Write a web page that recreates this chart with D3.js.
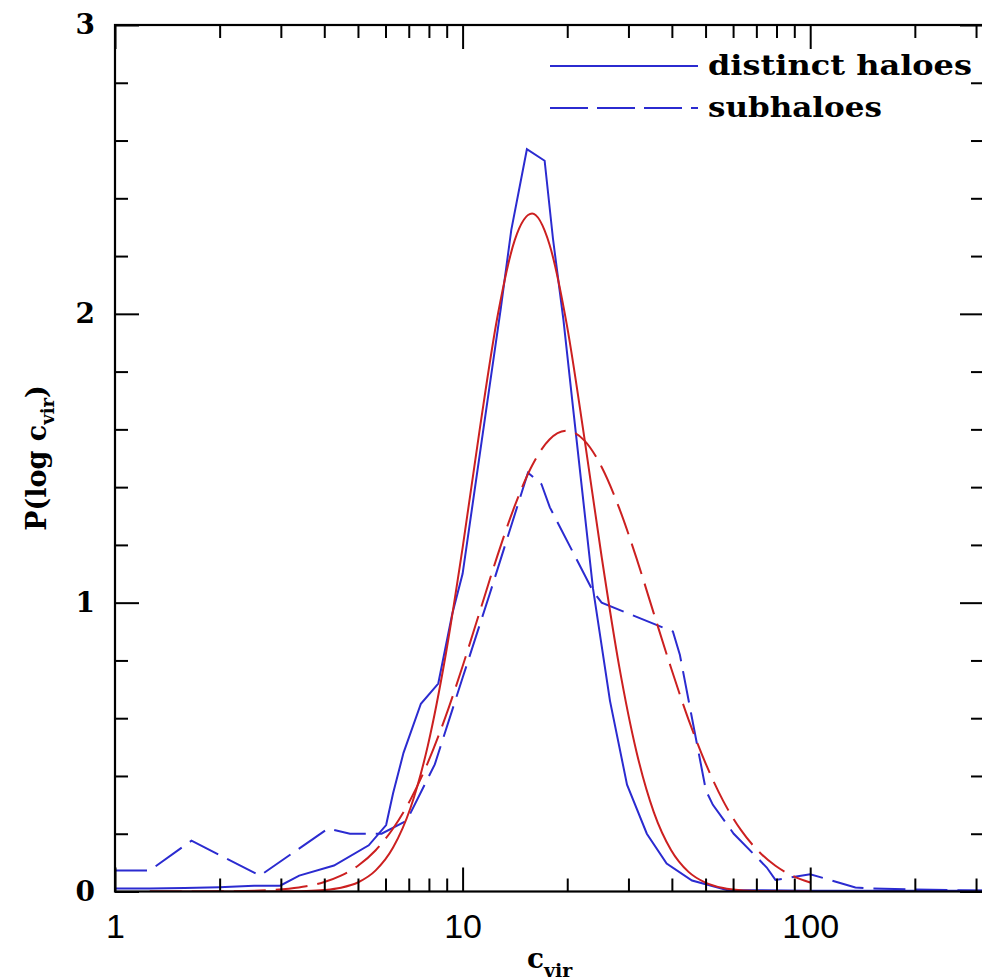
<!DOCTYPE html>
<html>
<head>
<meta charset="utf-8">
<script src="https://cdn.jsdelivr.net/npm/d3@7"></script>
<style>
  body { margin: 0; background: #fff; }
  svg { display: block; }
</style>
</head>
<body>
<div class="svg-container"></div>
<script>
// log10(c_vir) positions and P(log c_vir)
const distinctLogC = [0, 0.1, 0.2, 0.3, 0.4, 0.475, 0.53, 0.63, 0.73, 0.78, 0.8, 0.83, 0.88, 0.93, 0.97, 1.0,
  1.055, 1.11, 1.14, 1.185, 1.236, 1.26, 1.29, 1.32, 1.375, 1.424, 1.473, 1.53, 1.587, 1.66, 1.76, 2.0, 2.5]
const distinctP = [0.01, 0.01, 0.012, 0.015, 0.02, 0.02, 0.055, 0.09, 0.16, 0.23, 0.34, 0.48, 0.65, 0.72, 0.96, 1.10,
  1.56, 2.02, 2.29, 2.57, 2.53, 2.26, 1.98, 1.65, 1.05, 0.66, 0.37, 0.20, 0.097, 0.038, 0.005, 0.003, 0.003]

const subLogC = [0, 0.1, 0.22, 0.417, 0.613, 0.676, 0.767, 0.839, 0.92, 1.0, 1.078, 1.188, 1.227, 1.251,
  1.375, 1.40, 1.605, 1.625, 1.66, 1.70, 1.72, 1.78, 1.875, 1.90, 2.0, 2.13, 2.18, 2.5]
const subP = [0.073, 0.073, 0.176, 0.055, 0.218, 0.20, 0.20, 0.245, 0.44, 0.74, 1.03, 1.45, 1.41, 1.33,
  1.04, 1.00, 0.90, 0.82, 0.60, 0.35, 0.30, 0.20, 0.083, 0.04, 0.06, 0.014, 0.01, 0.003]

// lognormal fits (red), sampled on a shared grid
const fitLogC = [0.1, 0.2, 0.3, 0.4, 0.5, 0.55, 0.6, 0.65, 0.7, 0.75, 0.8, 0.85, 0.9, 0.95, 1.0, 1.05, 1.1, 1.15,
  1.2, 1.25, 1.3, 1.35, 1.4, 1.45, 1.5, 1.55, 1.6, 1.65, 1.7, 1.75, 1.8, 1.85, 1.9, 1.95, 2.0]
const distinctFitP = [0, 0, 0, 0, 0.0005, 0.0016, 0.005, 0.013, 0.032, 0.073, 0.152, 0.289, 0.505, 0.81, 1.19,
  1.606, 1.988, 2.255, 2.347, 2.24, 1.961, 1.573, 1.159, 0.783, 0.485, 0.275, 0.143, 0.068, 0.03, 0.012, 0.004,
  0.0015, 0.0005, 0, 0]
const subFitP = [0, 0, 0.0005, 0.0025, 0.0097, 0.018, 0.032, 0.055, 0.09, 0.143, 0.218, 0.318, 0.446, 0.602, 0.78,
  0.971, 1.162, 1.335, 1.475, 1.565, 1.595, 1.562, 1.47, 1.329, 1.155, 0.963, 0.773, 0.595, 0.441, 0.313, 0.214,
  0.141, 0.089, 0.054, 0.031]

const xMajor = [1, 10, 100]
const xMinor = [2, 3, 4, 5, 6, 7, 8, 9, 20, 30, 40, 50, 60, 70, 80, 90, 200, 300]
const yMajor = [0, 1, 2, 3]
const yMinor = [0.2, 0.4, 0.6, 0.8, 1.2, 1.4, 1.6, 1.8, 2.2, 2.4, 2.6, 2.8]

const legendItems = ['distinct haloes', 'subhaloes']

const blue = '#2b2bd0'
const red = '#cc2020'

const svg = d3.select('.svg-container').append('svg')
  .attr('width', 982)
  .attr('height', 980)

const x = d3.scaleLog().domain([1, 316.23]).range([115, 984])
const y = d3.scaleLinear().domain([0, 3]).range([891.5, 25])

svg.append('defs').append('clipPath')
  .attr('id', 'plot-clip')
  .append('rect')
  .attr('x', 115).attr('y', 25)
  .attr('width', 869).attr('height', 866.5)

const zip = (xs, ys) => xs.map((l, i) => ({ c: Math.pow(10, l), p: ys[i] }))

const line = d3.line().x(d => x(d.c)).y(d => y(d.p))
const smooth = d3.line().x(d => x(d.c)).y(d => y(d.p)).curve(d3.curveMonotoneX)

const curves = svg.append('g').attr('clip-path', 'url(#plot-clip)')

curves.append('path')
  .attr('d', line(zip(distinctLogC, distinctP)))
  .attr('fill', 'none').attr('stroke', blue).attr('stroke-width', 2)

curves.append('path')
  .attr('d', line(zip(subLogC, subP)))
  .attr('fill', 'none').attr('stroke', blue).attr('stroke-width', 2)
  .attr('stroke-dasharray', '32,10')

curves.append('path')
  .attr('d', smooth(zip(fitLogC, distinctFitP)))
  .attr('fill', 'none').attr('stroke', red).attr('stroke-width', 2)

curves.append('path')
  .attr('d', smooth(zip(fitLogC, subFitP)))
  .attr('fill', 'none').attr('stroke', red).attr('stroke-width', 2)
  .attr('stroke-dasharray', '32,10')

// axes, ticks pointing inward
function styleAxis(g) {
  g.select('.domain').remove()
  g.selectAll('.tick line').attr('stroke', '#000').attr('stroke-width', 2)
}

svg.append('g').attr('transform', 'translate(0,891.5)')
  .call(d3.axisBottom(x).tickValues(xMinor).tickSize(-13).tickFormat(''))
  .call(styleAxis)

svg.append('g').attr('transform', 'translate(0,891.5)')
  .call(d3.axisBottom(x).tickValues(xMajor).tickSize(-24).tickPadding(22).tickFormat(d3.format('d')))
  .call(styleAxis)
  .selectAll('text')
  .attr('font-family', 'Liberation Sans, sans-serif')
  .attr('font-size', 34)
  .attr('fill', '#000')

svg.append('g').attr('transform', 'translate(0,25)')
  .call(d3.axisTop(x).tickValues(xMinor).tickSize(-13).tickFormat(''))
  .call(styleAxis)

svg.append('g').attr('transform', 'translate(0,25)')
  .call(d3.axisTop(x).tickValues(xMajor).tickSize(-24).tickFormat(''))
  .call(styleAxis)

svg.append('g').attr('transform', 'translate(115,0)')
  .call(d3.axisLeft(y).tickValues(yMinor).tickSize(-13).tickFormat(''))
  .call(styleAxis)

svg.append('g').attr('transform', 'translate(115,0)')
  .call(d3.axisLeft(y).tickValues(yMajor).tickSize(-24).tickPadding(20).tickFormat(d3.format('d')))
  .call(styleAxis)
  .selectAll('text')
  .attr('font-family', 'DejaVu Serif, serif')
  .attr('font-weight', 'bold')
  .attr('font-size', 28)
  .attr('fill', '#000')

svg.append('g').attr('transform', 'translate(984,0)')
  .call(d3.axisRight(y).tickValues(yMinor).tickSize(-13).tickFormat(''))
  .call(styleAxis)

svg.append('g').attr('transform', 'translate(984,0)')
  .call(d3.axisRight(y).tickValues(yMajor).tickSize(-24).tickFormat(''))
  .call(styleAxis)

svg.append('rect')
  .attr('x', 115).attr('y', 25)
  .attr('width', 869).attr('height', 866.5)
  .attr('fill', 'none').attr('stroke', '#000').attr('stroke-width', 2.2)

// axis titles
const xTitle = svg.append('text')
  .attr('x', 527).attr('y', 968)
  .attr('font-family', 'DejaVu Serif, serif')
  .attr('font-weight', 'bold')
  .attr('font-size', 28)
xTitle.append('tspan').text('c')
xTitle.append('tspan').attr('dy', 9).attr('font-size', 19).text('vir')

const yTitle = svg.append('text')
  .attr('transform', 'translate(46,458) rotate(-90)')
  .attr('text-anchor', 'middle')
  .attr('font-family', 'DejaVu Serif, serif')
  .attr('font-weight', 'bold')
  .attr('font-size', 27)
yTitle.append('tspan').text('P(log c')
yTitle.append('tspan').attr('dy', 8).attr('font-size', 18).text('vir')
yTitle.append('tspan').attr('dy', -8).text(')')

// legend
const legend = svg.append('g')
legendItems.forEach((name, i) => {
  const ly = 66 + i * 42
  legend.append('line')
    .attr('x1', 550).attr('x2', 698)
    .attr('y1', ly).attr('y2', ly)
    .attr('stroke', blue).attr('stroke-width', 2)
    .attr('stroke-dasharray', i === 1 ? '38,9' : null)
  legend.append('text')
    .attr('x', 708).attr('y', ly + 9)
    .attr('font-family', 'DejaVu Serif, serif')
    .attr('font-weight', 'bold')
    .attr('font-size', 27)
    .attr('textLength', i === 0 ? 264 : 174)
    .attr('lengthAdjust', 'spacingAndGlyphs')
    .text(name)
})
</script>
</body>
</html>
